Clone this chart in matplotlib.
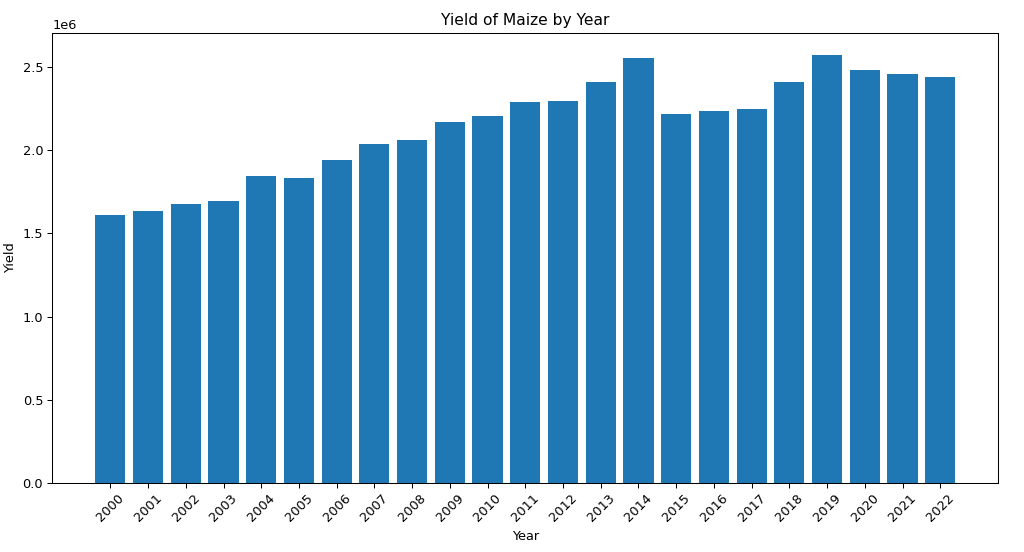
import matplotlib
matplotlib.use("Agg")
import matplotlib.pyplot as plt

# values
years = [str(y) for y in range(2000, 2023)]
yield_values = [
    1.610e6, 1.632e6, 1.677e6, 1.693e6, 1.843e6, 1.833e6, 1.943e6, 2.034e6,
    2.058e6, 2.167e6, 2.205e6, 2.286e6, 2.292e6, 2.412e6, 2.551e6, 2.217e6,
    2.235e6, 2.244e6, 2.412e6, 2.574e6, 2.480e6, 2.457e6, 2.440e6,
]

dpi = 1024 / 11
fig, ax = plt.subplots(figsize=(11, 552 / dpi), dpi=dpi)
ax.bar(years, yield_values, color='#1f77b4')
ax.set_xlabel("Year")
ax.set_ylabel("Yield")
ax.set_title("Yield of Maize by Year")
plt.xticks(rotation=45)
fig.subplots_adjust(left=0.051, right=0.975, top=0.940, bottom=0.125)
fig.savefig("out.png", dpi=dpi)
